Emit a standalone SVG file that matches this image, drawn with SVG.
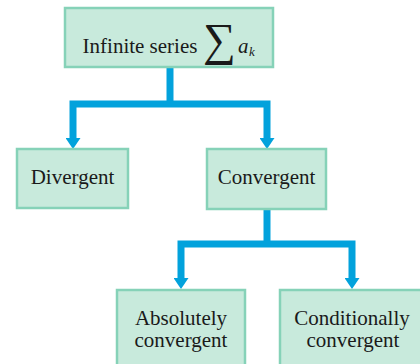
<svg xmlns="http://www.w3.org/2000/svg" width="420" height="364" viewBox="0 0 420 364">
  <defs>
    <style>
      .box { fill: #c8eadc; stroke: #86d2b8; stroke-width: 2.5; }
      .lbl { font-family: "Liberation Serif", "DejaVu Serif", "Times New Roman", serif; font-size: 21px; fill: #1a1a1a; text-anchor: middle; }
      .conn { fill: none; stroke: #02a2dc; stroke-width: 7; stroke-linejoin: miter; }
    </style>
    <marker id="arr" markerUnits="userSpaceOnUse" viewBox="0 0 11 15" refX="0" refY="7.5" markerWidth="11" markerHeight="15" orient="auto">
      <path d="M0,0 L11,7.5 L0,15 z" fill="#02a2dc"/>
    </marker>
  </defs>
  <rect width="420" height="364" fill="#ffffff"/>

  <g id="connectors">
    <path class="conn" d="M170,67 V104"/>
    <path class="conn" d="M170,104 H73 V138" marker-end="url(#arr)"/>
    <path class="conn" d="M170,104 H267 V138" marker-end="url(#arr)"/>
    <path class="conn" d="M267,209 V244"/>
    <path class="conn" d="M267,244 H181 V278" marker-end="url(#arr)"/>
    <path class="conn" d="M267,244 H352 V278" marker-end="url(#arr)"/>
  </g>

  <g id="node-series">
    <rect class="box" x="65" y="8" width="208" height="59"/>
    <text class="lbl" x="140" y="53">Infinite series</text>
    <text x="203" y="55" font-family="'Liberation Serif', 'DejaVu Serif', serif" font-size="46" fill="#1a1a1a">∑</text>
    <text x="238" y="53" font-family="'Liberation Serif', serif" font-size="21" font-style="italic" fill="#1a1a1a">a</text>
    <text x="249" y="56" font-family="'Liberation Serif', serif" font-size="13" font-style="italic" fill="#1a1a1a">k</text>
  </g>

  <g id="node-divergent">
    <rect class="box" x="17" y="149" width="111" height="59"/>
    <text class="lbl" x="72.5" y="184">Divergent</text>
  </g>

  <g id="node-convergent">
    <rect class="box" x="207" y="149" width="119" height="60"/>
    <text class="lbl" x="266.5" y="184">Convergent</text>
  </g>

  <g id="node-absolute">
    <rect class="box" x="117" y="290" width="128" height="80"/>
    <text class="lbl" x="181" y="325">Absolutely</text>
    <text class="lbl" x="181" y="347">convergent</text>
  </g>

  <g id="node-conditional">
    <rect class="box" x="280" y="290" width="144" height="80"/>
    <text class="lbl" x="352" y="325">Conditionally</text>
    <text class="lbl" x="353" y="347">convergent</text>
  </g>
</svg>
